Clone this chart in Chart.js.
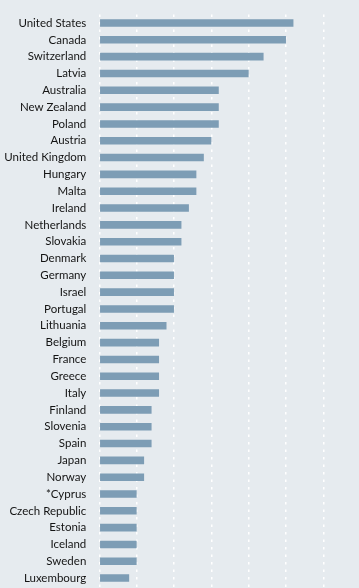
<!DOCTYPE html>
<html>
<head>
<meta charset="utf-8">
<script src="https://cdn.jsdelivr.net/npm/chart.js@4/dist/chart.umd.min.js"></script>
<style>
html,body{margin:0;padding:0;background:#e6ebef;}
#wrap{width:359px;height:588px;position:relative;}
</style>
</head>
<body>
<div id="wrap"><canvas id="c" width="359" height="588"></canvas></div>
<script>
const categories = ["United States","Canada","Switzerland","Latvia","Australia","New Zealand","Poland","Austria","United Kingdom","Hungary","Malta","Ireland","Netherlands","Slovakia","Denmark","Germany","Israel","Portugal","Lithuania","Belgium","France","Greece","Italy","Finland","Slovenia","Spain","Japan","Norway","*Cyprus","Czech Republic","Estonia","Iceland","Sweden","Luxembourg"];
const values = [26,25,22,20,16,16,16,15,14,13,13,12,11,11,10,10,10,10,9,8,8,8,8,7,7,7,6,6,5,5,5,5,5,4];
const gridTicks = [0,5,10,15,20,25,30];

new Chart(document.getElementById('c'), {
  type: 'bar',
  data: {
    labels: categories,
    datasets: [{
      data: values,
      backgroundColor: '#7d9db5',
      borderWidth: 0,
      categoryPercentage: 1,
      barPercentage: 0.45
    }]
  },
  options: {
    indexAxis: 'y',
    responsive: false,
    animation: false,
    maintainAspectRatio: false,
    layout: { padding: { top: 14.6, bottom: 1.5, left: 0, right: 0 } },
    plugins: { legend: { display: false }, tooltip: { enabled: false } },
    scales: {
      x: {
        min: 0,
        max: 34.78,
        afterBuildTicks: axis => { axis.ticks = gridTicks.map(v => ({ value: v })); },
        afterFit: s => { s.height = 0; s.paddingLeft = 0; s.paddingRight = 0; },
        ticks: { display: false },
        border: { display: false, dash: [2.5, 5] },
        grid: { color: '#ffffff', lineWidth: 1.5, drawTicks: false }
      },
      y: {
        afterFit: s => { s.width = 99.3; s.paddingTop = 0; s.paddingBottom = 0; },
        ticks: { color: '#141414', font: { family: 'Lato', size: 11.5 }, padding: 13, autoSkip: false },
        border: { display: false },
        grid: { display: false, drawTicks: false }
      }
    }
  }
});
</script>
</body>
</html>
